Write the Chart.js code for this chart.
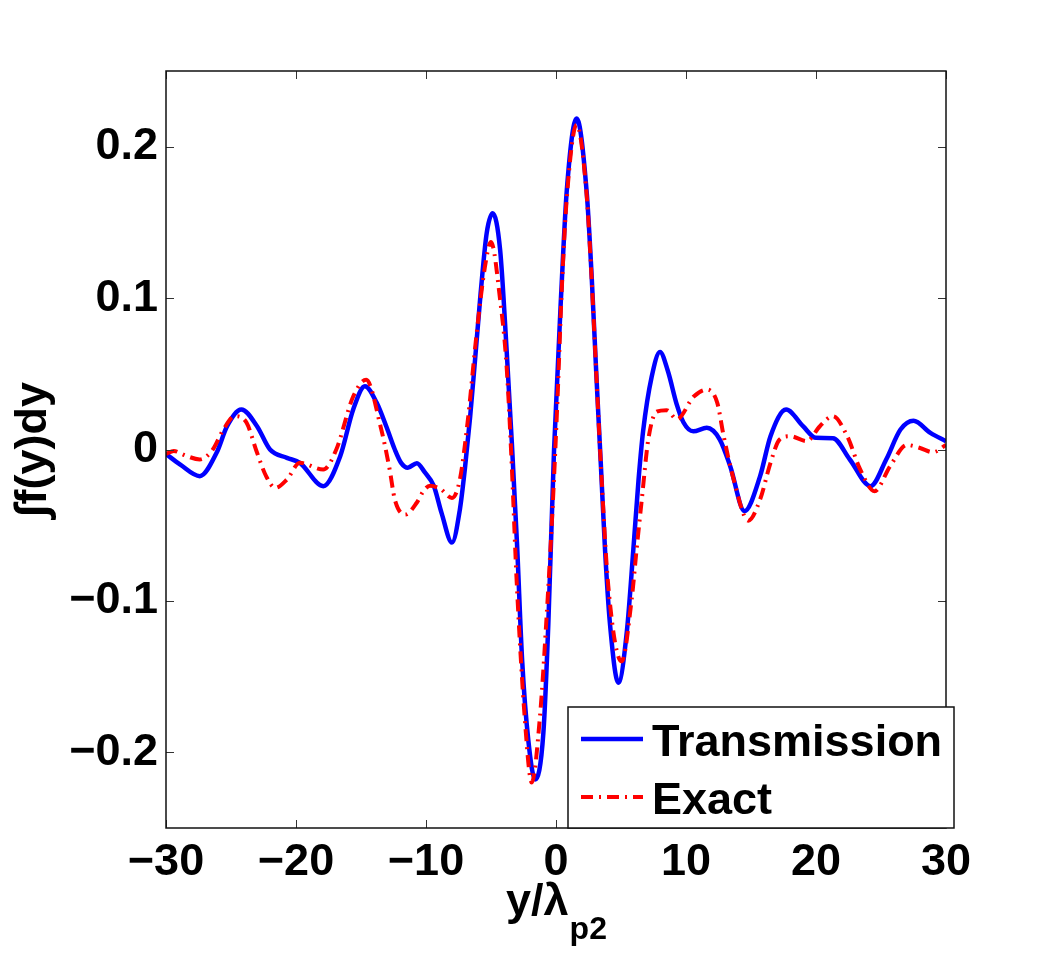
<!DOCTYPE html>
<html>
<head>
<meta charset="utf-8">
<script src="https://cdn.jsdelivr.net/npm/chart.js@4.4.0/dist/chart.umd.min.js"></script>
<style>
  body { margin: 0; background: #fff; }
  #wrap { width: 1044px; height: 953px; }
</style>
</head>
<body>
<div id="wrap"><canvas id="grafico" width="1044" height="953"></canvas></div>
<script>
// Datos
const transX = [-30, -28.9, -27.4, -26.1, -25.3, -24.2, -23.0, -22.0, -20.7, -19.7, -17.9, -16.6, -15.6, -14.7, -13.8, -13.0, -12.4, -11.9, -11.4, -10.7, -10.1, -9.4, -8.8, -8.0, -7.4, -7.0, -6.6, -6.2, -5.8, -5.33, -4.87, -4.3, -3.8, -3.4, -3.0, -2.6, -2.13, -1.6, -0.97, -0.59, -0.15, 0.44, 0.82, 1.59, 2.36, 2.74, 3.1, 3.45, 3.77, 4.15, 4.8, 5.44, 5.95, 6.35, 6.7, 7.36, 8.0, 8.6, 9.28, 9.8, 10.56, 11.6, 12.6, 13.4, 14.5, 15.7, 16.5, 17.7, 19.0, 20.0, 21.3, 22.6, 24.2, 25.4, 26.5, 27.5, 28.8, 30];
const transY = [-0.003, -0.010, -0.0176, -0.002, 0.0154, 0.0264, 0.0154, 0.0, -0.0055, -0.0088, -0.0242, -0.0044, 0.0264, 0.0418, 0.031, 0.014, 0.0, -0.009, -0.012, -0.009, -0.015, -0.024, -0.042, -0.0615, -0.04, -0.012, 0.022, 0.062, 0.103, 0.143, 0.156, 0.132, 0.066, 0.005, -0.062, -0.14, -0.192, -0.218, -0.187, -0.115, 0.0, 0.11, 0.17, 0.2187, 0.17, 0.115, 0.05, -0.01, -0.066, -0.115, -0.154, -0.121, -0.066, -0.02, 0.012, 0.048, 0.0644, 0.052, 0.03, 0.018, 0.012, 0.0143, 0.0066, -0.011, -0.0407, -0.0176, 0.0088, 0.0264, 0.0154, 0.0077, 0.0075, -0.0066, -0.0242, -0.0066, 0.0132, 0.019, 0.011, 0.0055];

const exactX = [-30, -29.4, -28.5, -27.4, -26.4, -25.6, -24.7, -23.8, -23.0, -22.3, -21.6, -20.7, -19.7, -17.9, -16.9, -15.6, -14.6, -13.5, -12.8, -12.4, -11.6, -10.7, -10.2, -9.7, -8.9, -8.0, -7.4, -6.8, -6.1, -5.46, -5.0, -4.3, -3.8, -3.4, -3.02, -2.38, -1.87, -1.23, -0.72, -0.3, 0.1, 0.44, 0.82, 1.59, 2.36, 2.74, 3.1, 3.45, 4.02, 5.05, 5.82, 6.2, 6.6, 7.1, 7.75, 8.5, 9.3, 10.6, 11.6, 12.4, 12.9, 13.6, 14.8, 15.7, 16.5, 17.2, 18.0, 19.3, 20.3, 21.3, 22.4, 23.4, 24.5, 25.7, 27.0, 28.0, 29.0, 30];
const exactY = [-0.003, -0.001, -0.004, -0.0066, 0.0, 0.013, 0.022, 0.0176, -0.002, -0.0176, -0.0253, -0.0198, -0.0088, -0.0132, 0.0, 0.035, 0.046, 0.0154, -0.013, -0.033, -0.043, -0.035, -0.0275, -0.024, -0.026, -0.032, -0.02, 0.018, 0.077, 0.121, 0.137, 0.099, 0.055, -0.011, -0.088, -0.18, -0.22, -0.176, -0.11, -0.045, 0.03, 0.105, 0.165, 0.2144, 0.168, 0.113, 0.05, -0.01, -0.09, -0.14, -0.099, -0.066, -0.033, 0.0066, 0.025, 0.026, 0.020, 0.035, 0.0396, 0.031, 0.0088, -0.0176, -0.047, -0.033, -0.0088, 0.0066, 0.0088, 0.0055, 0.0154, 0.022, 0.0088, -0.0132, -0.0275, -0.011, 0.003, 0.001, -0.0018, 0.003];

const xTicks = [-30, -20, -10, 0, 10, 20, 30];
const yTicks = [-0.2, -0.1, 0, 0.1, 0.2];
const seriesNames = ['Transmission', 'Exact'];

const familia = '"Liberation Sans", Arial, Helvetica, sans-serif';

function puntos(xs, ys) {
    return xs.map((x, i) => ({ x: x, y: ys[i] }));
}

function etiqueta(v) {
    if (v === 0) return '0';
    return (v < 0 ? '\u2212' : '') + String(Math.abs(v));
}

// Caja, marcas, títulos de ejes y leyenda
const cajaPlugin = {
    id: 'caja',
    afterDraw(chart) {
        const ctx = chart.ctx;
        const a = chart.chartArea;
        const sx = chart.scales.x;
        const sy = chart.scales.y;
        ctx.save();

        ctx.strokeStyle = '#333';
        ctx.lineWidth = 1;
        ctx.beginPath();
        xTicks.forEach(v => {
            const p = Math.round(sx.getPixelForValue(v)) + 0.5;
            ctx.moveTo(p, a.bottom); ctx.lineTo(p, a.bottom - 8);
            ctx.moveTo(p, a.top); ctx.lineTo(p, a.top + 8);
        });
        yTicks.forEach(v => {
            const p = Math.round(sy.getPixelForValue(v)) + 0.5;
            ctx.moveTo(a.left, p); ctx.lineTo(a.left + 8, p);
            ctx.moveTo(a.right, p); ctx.lineTo(a.right - 8, p);
        });
        ctx.stroke();

        ctx.strokeStyle = '#111';
        ctx.lineWidth = 1.5;
        ctx.strokeRect(a.left, a.top, a.right - a.left, a.bottom - a.top);

        // título eje x: y/λ con subíndice p2
        ctx.fillStyle = '#000';
        ctx.textBaseline = 'alphabetic';
        ctx.textAlign = 'left';
        const fGrande = 'bold 45px ' + familia;
        const fChica = 'bold 32px ' + familia;
        ctx.font = fGrande;
        const w1 = ctx.measureText('y/\u03bb').width;
        ctx.font = fChica;
        const w2 = ctx.measureText('p2').width;
        const cx = (a.left + a.right) / 2;
        const x0 = cx - (w1 + w2) / 2;
        ctx.font = fGrande;
        ctx.fillText('y/\u03bb', x0, 915);
        ctx.font = fChica;
        ctx.fillText('p2', x0 + w1 + 1, 939);

        // título eje y
        ctx.save();
        ctx.translate(46, (a.top + a.bottom) / 2);
        ctx.rotate(-Math.PI / 2);
        ctx.textAlign = 'center';
        ctx.font = fGrande;
        ctx.fillText('\u222bf(y)dy', 0, 0);
        ctx.restore();

        // leyenda
        const lx = a.right - 378, ly = a.bottom - 121, lw = 386, lh = 121;
        ctx.fillStyle = '#fff';
        ctx.fillRect(lx, ly, lw, lh);
        ctx.strokeStyle = '#111';
        ctx.lineWidth = 1.5;
        ctx.strokeRect(lx, ly, lw, lh);
        const filas = [32, 90];
        chart.data.datasets.forEach((ds, i) => {
            const yy = ly + filas[i];
            ctx.save();
            ctx.strokeStyle = ds.borderColor;
            ctx.lineWidth = ds.borderWidth;
            ctx.setLineDash(ds.borderDash || []);
            ctx.beginPath();
            ctx.moveTo(lx + 13, yy);
            ctx.lineTo(lx + 75, yy);
            ctx.stroke();
            ctx.restore();
            ctx.fillStyle = '#000';
            ctx.font = fGrande;
            ctx.textAlign = 'left';
            ctx.fillText(ds.label, lx + 84, yy + 17);
        });

        ctx.restore();
    }
};

const dataCurvas = {
    datasets: [{
        label: seriesNames[0],
        data: puntos(transX, transY),
        borderColor: '#0000ff',
        borderWidth: 4.5,
        pointRadius: 0,
        cubicInterpolationMode: 'monotone',
        order: 2
    }, {
        label: seriesNames[1],
        data: puntos(exactX, exactY),
        borderColor: '#ff0000',
        borderWidth: 4,
        borderDash: [12, 6, 2, 6],
        pointRadius: 0,
        cubicInterpolationMode: 'monotone',
        order: 1
    }]
};

const configCurvas = {
    type: 'line',
    data: dataCurvas,
    options: {
        responsive: false,
        animation: false,
        devicePixelRatio: 1,
        layout: { padding: { top: 71, right: 98, left: 0, bottom: 0 } },
        plugins: {
            legend: { display: false },
            tooltip: { enabled: false }
        },
        scales: {
            x: {
                type: 'linear',
                min: -30,
                max: 30,
                grid: { display: false },
                border: { display: false },
                afterBuildTicks: s => { s.ticks = xTicks.map(v => ({ value: v })); },
                afterFit: s => { s.height = 125; },
                ticks: {
                    autoSkip: false,
                    maxRotation: 0,
                    padding: 0,
                    color: '#000',
                    font: { family: familia, size: 45, weight: 'bold' },
                    callback: v => etiqueta(v)
                }
            },
            y: {
                min: -0.25,
                max: 0.25,
                grid: { display: false },
                border: { display: false },
                afterBuildTicks: s => { s.ticks = yTicks.map(v => ({ value: v })); },
                afterFit: s => { s.width = 166; },
                ticks: {
                    autoSkip: false,
                    padding: 0,
                    color: '#000',
                    font: { family: familia, size: 45, weight: 'bold' },
                    callback: v => etiqueta(v)
                }
            }
        }
    },
    plugins: [cajaPlugin]
};

new Chart(document.getElementById('grafico'), configCurvas);
</script>
</body>
</html>
